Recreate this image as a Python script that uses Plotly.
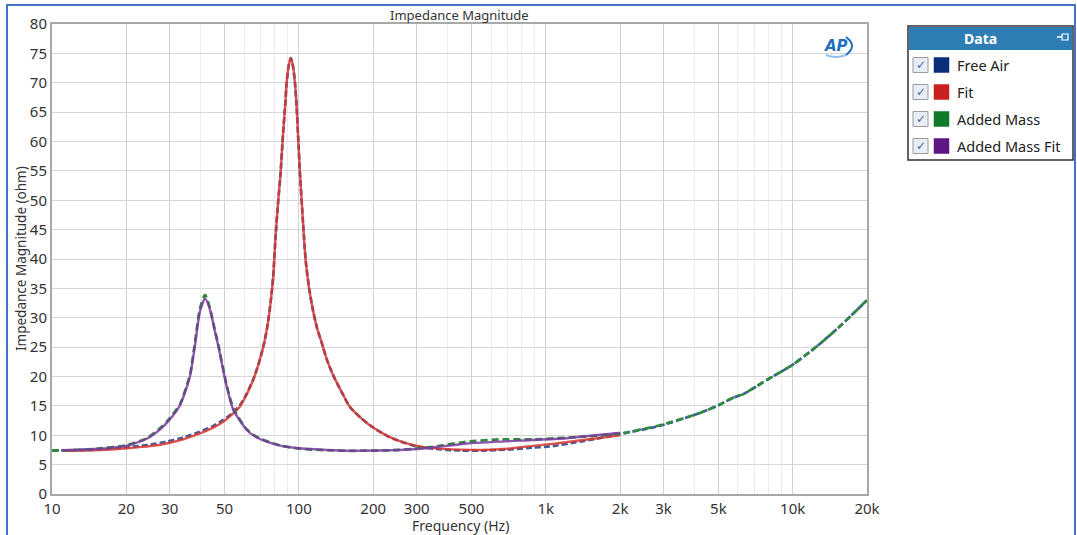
import plotly.graph_objects as go
import math

# ---------------- data ----------------
free_air_f = [10, 12, 15.6, 20, 25, 29.1, 34, 39.7, 45, 49.4, 53.5, 57.7, 61.5, 65.3, 68.5, 71.8, 74.5, 77, 78.7,
              80.5, 82.5, 84.3, 86, 87.9, 89.2, 91, 92.7, 94.5, 96.4, 97.9, 99.5, 101, 104, 106.5, 110, 114, 118.5,
              123.6, 130, 137.7, 148, 161, 180, 200, 230, 256, 300, 350, 450, 558, 700, 889, 1040, 1419, 2000,
              2900, 4212, 5000, 5741, 6310, 7847, 10000, 12500, 15500, 20000]
free_air_z = [7.4, 7.45, 7.6, 7.95, 8.4, 8.9, 9.6, 10.6, 11.6, 12.6, 13.7, 15.1, 17.1, 19.5, 22.0, 25.1, 28.5, 33.0, 37.0,
              44.0, 50.0, 54.6, 60.5, 65.9, 70.0, 73.0, 74.2, 73.0, 70.0, 65.9, 60.0, 54.6, 46.0, 39.8, 35.0, 31.3, 28.2,
              25.8, 22.8, 20.2, 17.6, 14.8, 12.8, 11.3, 9.8, 9.0, 8.1, 7.7, 7.4, 7.4, 7.55, 7.9, 8.1, 9.0, 10.2,
              11.6, 13.8, 15.1, 16.4, 17.0, 19.4, 22.0, 25.1, 28.5, 33.0]

fit_f = [11, 15.6, 20, 25, 29.1, 34, 39.7, 45, 49.4, 53.5, 57.7, 61.5, 65.3, 68.5, 71.8, 74.5, 77, 78.7,
         80.5, 82.5, 84.3, 86, 87.9, 89.2, 91, 92.7, 94.5, 96.4, 97.9, 99.5, 101, 104, 106.5, 110, 114, 118.5,
         123.6, 130, 137.7, 148, 161, 180, 200, 230, 256, 300, 350, 450, 558, 700, 889, 1100, 1419, 1700, 2000]
fit_z = [7.35, 7.5, 7.8, 8.15, 8.6, 9.3, 10.3, 11.3, 12.3, 13.5, 14.9, 17.0, 19.4, 22.0, 25.1, 28.5, 33.0, 37.0,
         44.0, 50.0, 54.6, 60.5, 65.9, 70.0, 73.0, 74.2, 73.0, 70.0, 65.9, 60.0, 54.6, 46.0, 39.8, 35.0, 31.3, 28.2,
         25.8, 22.8, 20.2, 17.6, 14.8, 12.8, 11.3, 9.8, 9.0, 8.2, 7.8, 7.55, 7.5, 7.7, 8.2, 8.6, 9.2, 9.6, 10.0]

added_mass_f = [10, 12, 15, 20, 24.2, 27.4, 29.6, 33, 36.2, 38, 39.7, 41.7, 43.7, 45.5, 47.2, 51, 54.3, 61.5,
                67, 74, 85, 101, 130, 161, 256, 350, 479, 652, 889, 1419, 2000, 2900, 4212, 5000, 5741, 6310,
                7847, 10000, 12500, 15500, 20000]
added_mass_z = [7.4, 7.45, 7.7, 8.3, 9.5, 11.2, 12.6, 15.3, 20.3, 26.0, 31.5, 33.9, 31.5, 28.2, 25.3, 18.5, 14.5, 11.0,
                9.8, 9.0, 8.2, 7.7, 7.45, 7.35, 7.5, 8.05, 8.9, 9.3, 9.3, 9.75, 10.3, 11.7, 13.8, 15.1, 16.4, 17.0,
                19.4, 22.0, 25.1, 28.5, 33.0]

added_fit_f = [11, 15, 20, 24.2, 27.4, 29.6, 33, 36.2, 38, 39.7, 41.7, 43.7, 45.5, 47.2, 51, 54.3, 61.5,
               67, 74, 85, 101, 130, 161, 256, 330, 479, 889, 1215, 1875, 2000]
added_fit_z = [7.45, 7.65, 8.2, 9.4, 11.0, 12.4, 15.1, 20.0, 25.5, 31.0, 33.3, 31.3, 28.0, 25.1, 18.3, 14.3, 10.9,
               9.7, 8.9, 8.2, 7.78, 7.5, 7.37, 7.5, 7.8, 8.6, 9.2, 9.5, 10.3, 10.4]

series_names = ["Free Air", "Fit", "Added Mass", "Added Mass Fit"]
legend_colors = ["#0B2E7A", "#C8201E", "#107A2A", "#5E1682"]

x_major = [10, 20, 30, 50, 100, 200, 300, 500, 1000, 2000, 3000, 5000, 10000, 20000]
x_major_text = ["10", "20", "30", "50", "100", "200", "300", "500", "1k", "2k", "3k", "5k", "10k", "20k"]
x_minor = [40, 60, 70, 80, 90, 400, 600, 700, 800, 900, 4000, 6000, 7000, 8000, 9000]
y_ticks = list(range(0, 81, 5))

# ---------------- layout helpers ----------------
W, H = 1077, 535
L, R, T, B = 52, 867, 24, 494


def px(x):
    return (x - L) / (R - L)


def py(y):
    return (B - y) / (B - T)


FONT = "Noto Sans, Open Sans, sans-serif"

fig = go.Figure()

fig.add_trace(go.Scatter(x=free_air_f, y=free_air_z, mode="lines", name=series_names[0],
                         line=dict(color="#3F5E9E", width=2.7, dash="6px,3px", shape="spline", smoothing=0.6)))
fig.add_trace(go.Scatter(x=fit_f, y=fit_z, mode="lines", name=series_names[1], opacity=0.85,
                         line=dict(color="#D9362E", width=2.4, shape="spline", smoothing=0.6)))
fig.add_trace(go.Scatter(x=added_mass_f, y=added_mass_z, mode="lines", name=series_names[2],
                         line=dict(color="#2F8A3C", width=2.7, dash="7px,4px", shape="spline", smoothing=0.6)))
fig.add_trace(go.Scatter(x=added_fit_f, y=added_fit_z, mode="lines", name=series_names[3], opacity=0.85,
                         line=dict(color="#7A3AA0", width=2.4, shape="spline", smoothing=0.6)))

fig.update_layout(
    width=W, height=H,
    margin=dict(l=L, r=W - R, t=T, b=H - B, pad=0),
    paper_bgcolor="white", plot_bgcolor="white",
    showlegend=False,
    font=dict(family=FONT, color="#333333"),
)

fig.update_xaxes(
    type="log", range=[1, math.log10(20000)],
    tickvals=x_major, ticktext=x_major_text,
    tickfont=dict(size=15, color="#333333"),
    showgrid=True, gridcolor="#D2D2D2", gridwidth=1,
    minor=dict(tickvals=x_minor, showgrid=True, gridcolor="#ECECEC", gridwidth=1, ticklen=0),
    showline=True, linecolor="#A8A8A8", linewidth=2, mirror=True,
    ticks="", zeroline=False,
)
fig.update_yaxes(
    range=[0, 80], tickvals=y_ticks,
    tickfont=dict(size=15, color="#333333"),
    showgrid=True, gridcolor="#D6D6D6", gridwidth=1,
    showline=True, linecolor="#A8A8A8", linewidth=2, mirror=True,
    ticks="", zeroline=False,
)

ann = []
shapes = []


def text(t, x, y, size, color="#333333", xanchor="center", family=FONT, angle=0):
    ann.append(dict(text=t, x=px(x), y=py(y), xref="paper", yref="paper", showarrow=False,
                    xanchor=xanchor, yanchor="middle", textangle=angle,
                    font=dict(size=size, color=color, family=family)))


# title and axis titles
text("Impedance Magnitude", 459, 15, 13)
text("Frequency (Hz)", 460, 525, 14)
text("Impedance Magnitude (ohm)", 21, 259, 13.5, angle=-90)

# outer blue frame
shapes.append(dict(type="rect", xref="paper", yref="paper", x0=px(7), x1=px(1075), y0=py(545), y1=py(5),
                   line=dict(color="#4472C4", width=2), fillcolor="rgba(0,0,0,0)", layer="above"))

# AP logo
text("<b><i>AP</i></b>", 836, 46, 15, color="#1F6FC0", family="DejaVu Sans")
shapes.append(dict(type="path", xref="paper", yref="paper",
                   path=f"M {px(846)},{py(37)} Q {px(858)},{py(46)} {px(846)},{py(55)}",
                   line=dict(color="#1F6FC0", width=2)))
shapes.append(dict(type="path", xref="paper", yref="paper",
                   path=f"M {px(826)},{py(55)} Q {px(836)},{py(59)} {px(846)},{py(55)}",
                   line=dict(color="#8FC0EA", width=2)))

# legend box
lx0, lx1, ly0, ly1 = 908, 1073, 26, 160
shapes.append(dict(type="rect", xref="paper", yref="paper", x0=px(lx0), x1=px(lx1), y0=py(ly1), y1=py(ly0),
                   fillcolor="white", line=dict(color="#303030", width=1.5), layer="above"))
shapes.append(dict(type="rect", xref="paper", yref="paper", x0=px(lx0 + 1), x1=px(lx1 - 1), y0=py(50), y1=py(ly0 + 1),
                   fillcolor="#2E7DB5", line=dict(width=0), layer="above"))
text("<b>Data</b>", 980, 38, 14, color="white")
# pin icon
shapes.append(dict(type="line", xref="paper", yref="paper", x0=px(1057), x1=px(1062), y0=py(37), y1=py(37),
                   line=dict(color="white", width=1.5), layer="above"))
shapes.append(dict(type="rect", xref="paper", yref="paper", x0=px(1062), x1=px(1068), y0=py(40), y1=py(34),
                   line=dict(color="white", width=1.2), fillcolor="rgba(0,0,0,0)", layer="above"))

entry_y = [65, 92, 119, 146]
for name, col, yy in zip(series_names, legend_colors, entry_y):
    shapes.append(dict(type="rect", xref="paper", yref="paper", x0=px(913), x1=px(928), y0=py(yy + 7.5), y1=py(yy - 7.5),
                       fillcolor="#E9EEF6", line=dict(color="#9A9A9A", width=1), layer="above"))
    text("✓", 920.5, yy, 12, color="#4A6A9F", family="DejaVu Sans")
    shapes.append(dict(type="rect", xref="paper", yref="paper", x0=px(934), x1=px(949), y0=py(yy + 7.5), y1=py(yy - 7.5),
                       fillcolor=col, line=dict(color=col, width=0.5), layer="above"))
    text(name, 955, yy, 14.5, color="#222222", xanchor="left")

fig.update_layout(annotations=ann, shapes=shapes)

fig.write_html("out.html", config={"displayModeBar": False},
               post_script="document.body.style.margin='0px';")
